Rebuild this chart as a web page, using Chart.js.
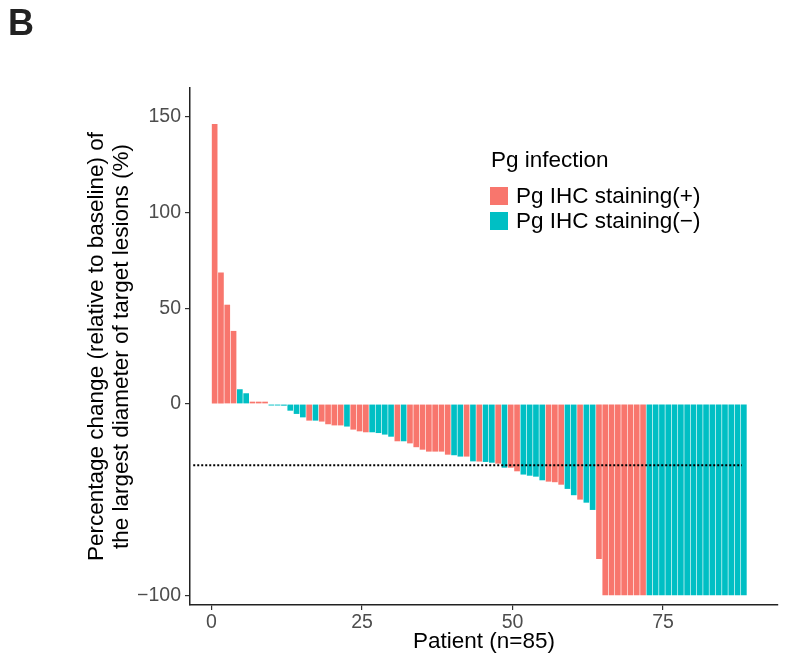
<!DOCTYPE html>
<html>
<head>
<meta charset="utf-8">
<script src="https://cdn.jsdelivr.net/npm/chart.js@4.4.0/dist/chart.umd.min.js"></script>
<style>
  body { margin: 0; background: #fff; }
  #wrap { position: relative; width: 785px; height: 656px; font-family: "Liberation Sans", Arial, sans-serif; }
  #panel { position: absolute; left: 8px; top: 2px; font-size: 36px; font-weight: bold; color: #222; }
  #legend { position: absolute; left: 491px; top: 147px; font-size: 22.5px; color: #000; }
  #legend .ttl { height: 26px; line-height: 26px; margin-bottom: 10px; }
  #legend .item { height: 25px; display: flex; align-items: center; }
  #legend .box { width: 18px; height: 18px; margin-right: 8px; margin-left: -1px; }
</style>
</head>
<body>
<div id="wrap">
  <canvas id="chart" width="785" height="656"></canvas>
  <div id="panel">B</div>
  <div id="legend"></div>
</div>
<script>
// percentage change per patient, sorted
const change = [
  146.4, 68.8, 51.9, 38.2, 7.7, 5.6, 1.2, 1.2, 1.2, -0.8,
  -0.8, -0.9, -3.5, -5.2, -7.0, -8.7, -8.7, -9.2, -10.6, -11.2,
  -11.2, -11.8, -13.4, -14.3, -14.8, -14.8, -15.2, -16.0, -17.1, -19.5,
  -19.5, -20.6, -22.6, -23.9, -24.9, -24.9, -24.9, -26.5, -26.8, -27.5,
  -27.5, -30.0, -30.1, -30.3, -30.7, -31.2, -33.3, -33.3, -35.2, -36.9,
  -37.5, -38.0, -39.9, -40.6, -40.9, -42.2, -44.4, -47.7, -50.0, -51.6,
  -55.4, -81.0, -100, -100, -100, -100, -100, -100, -100, -100,
  -100, -100, -100, -100, -100, -100, -100, -100, -100, -100,
  -100, -100, -100, -100, -100
];

// Pg IHC staining per patient
const pg = [
  '+','+','+','+','-','-','+','+','+','-',
  '-','-','-','-','-','+','-','+','+','+',
  '+','-','+','+','+','-','-','-','-','+',
  '-','+','+','+','+','+','+','+','-','-',
  '+','-','+','-','-','+','-','+','+','-',
  '-','-','-','+','+','+','-','-','+','-',
  '-','+','+','+','+','+','+','+','+','-',
  '-','-','-','-','-','-','-','-','-','-',
  '-','-','-','-','-'
];

const patients = change.map((_, i) => i + 1);
const groupLabels = ['Pg IHC staining(+)', 'Pg IHC staining(\u2212)'];
const groupColors = ['#F8766D', '#00BFC4'];
const cutoff = -32;
const cutoffFrom = -2.4, cutoffTo = 84.7;
const xTicks = [0, 25, 50, 75];
const yTicks = [150, 100, 50, 0, -100];
const yTitle = ['Percentage change (relative to baseline) of', 'the largest diameter of target lesions (%)'];
const xTitle = 'Patient (n=85)';

const posData = patients.map((p, i) => ({ x: p, y: pg[i] === '+' ? change[i] : null }));
const negData = patients.map((p, i) => ({ x: p, y: pg[i] === '-' ? change[i] : null }));

const family = '"Liberation Sans", Arial, sans-serif';
const tickFont = { family: family, size: 19.5 };
const titleFont = { family: family, size: 22.5, lineHeight: 1.11 };

const chart = new Chart(document.getElementById('chart'), {
  type: 'bar',
  data: {
    datasets: [
      {
        label: groupLabels[0],
        data: posData,
        backgroundColor: groupColors[0],
        borderWidth: 0,
        barPercentage: 0.9,
        categoryPercentage: 1,
        grouped: false,
        order: 2
      },
      {
        label: groupLabels[1],
        data: negData,
        backgroundColor: groupColors[1],
        borderWidth: 0,
        barPercentage: 0.9,
        categoryPercentage: 1,
        grouped: false,
        order: 2
      },
      {
        type: 'line',
        label: 'cutoff',
        data: [{ x: cutoffFrom, y: cutoff }, { x: cutoffTo, y: cutoff }],
        borderColor: '#000',
        borderWidth: 2,
        borderDash: [2, 2],
        pointRadius: 0,
        fill: false,
        order: 1
      }
    ]
  },
  options: {
    responsive: false,
    animation: false,
    layout: { padding: { top: 88, right: 7, left: 0, bottom: 0 } },
    plugins: {
      legend: { display: false },
      tooltip: { enabled: false }
    },
    scales: {
      x: {
        type: 'linear',
        display: false,
        offset: false,
        grid: { offset: false },
        min: -2.913,
        max: 90.42
      },
      xt: {
        type: 'linear',
        position: 'bottom',
        offset: false,
        min: -3.571,
        max: 94.10,
        afterBuildTicks: s => { s.ticks = xTicks.map(v => ({ value: v })); },
        afterFit: s => { s.height = 51; },
        grid: { offset: false, drawOnChartArea: false, tickLength: 5, color: '#333', lineWidth: 1.2 },
        border: { color: '#222', width: 1.5 },
        ticks: { color: '#4d4d4d', font: tickFont, padding: 1, maxRotation: 0 },
        title: {
          display: true,
          text: xTitle,
          color: '#000',
          font: titleFont,
          padding: { top: 0, bottom: 1.5 }
        }
      },
      y: {
        min: -105.1,
        max: 165.2,
        afterBuildTicks: s => { s.ticks = yTicks.map(v => ({ value: v })); },
        afterFit: s => { s.width = 190; },
        grid: { drawOnChartArea: false, tickLength: 5, color: '#333', lineWidth: 1.2 },
        border: { color: '#222', width: 1.5 },
        ticks: {
          color: '#4d4d4d',
          font: tickFont,
          padding: 4,
          callback: v => v < 0 ? '\u2212' + Math.abs(v) : String(v)
        },
        title: {
          display: true,
          text: yTitle,
          color: '#000',
          font: titleFont,
          padding: { top: 84.5, bottom: 0 }
        }
      }
    }
  }
});

// legend drawn inside the panel, from the chart's own datasets
const legend = document.getElementById('legend');
const ttl = document.createElement('div');
ttl.className = 'ttl';
ttl.textContent = 'Pg infection';
legend.appendChild(ttl);
chart.data.datasets.slice(0, 2).forEach(ds => {
  const row = document.createElement('div');
  row.className = 'item';
  const box = document.createElement('span');
  box.className = 'box';
  box.style.background = ds.backgroundColor;
  const txt = document.createElement('span');
  txt.textContent = ds.label;
  row.appendChild(box);
  row.appendChild(txt);
  legend.appendChild(row);
});
</script>
</body>
</html>
